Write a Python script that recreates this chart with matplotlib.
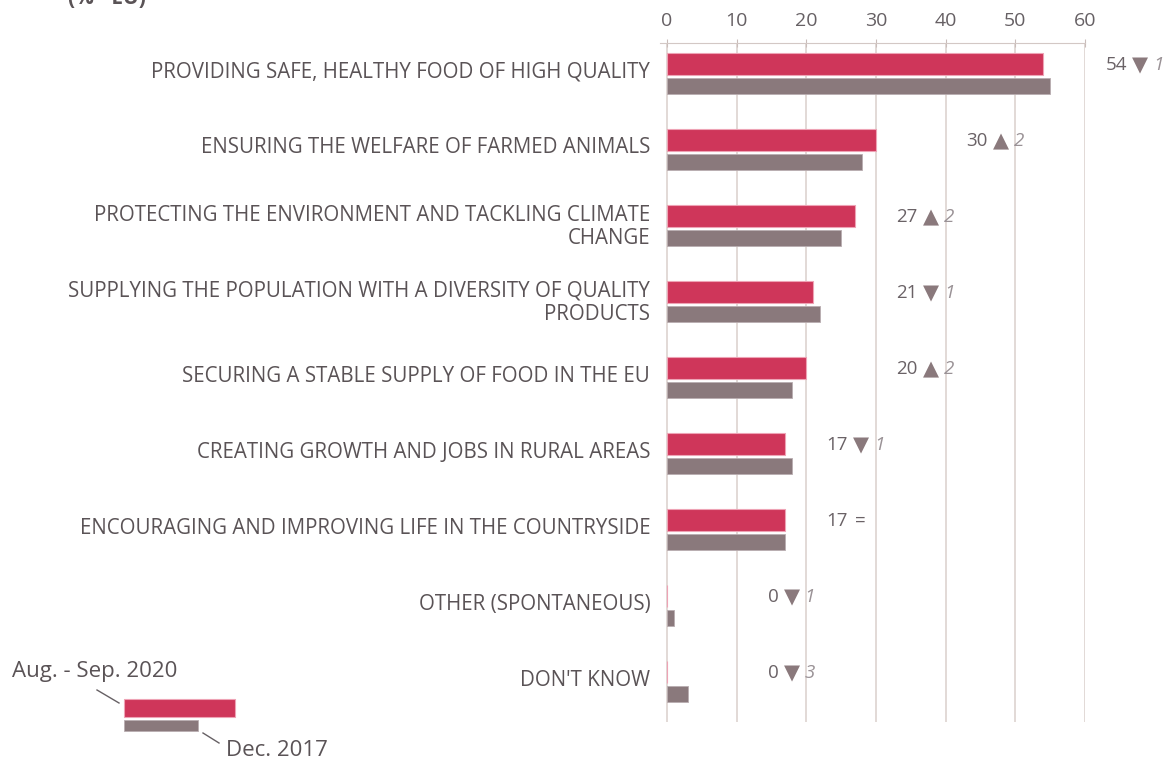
import matplotlib
matplotlib.use("Agg")

import numpy as np
import matplotlib.pyplot as plt
from matplotlib.patches import Rectangle
from matplotlib.lines import Line2D

# data
categories = [
    "PROVIDING SAFE, HEALTHY FOOD OF HIGH QUALITY",
    "ENSURING THE WELFARE OF FARMED ANIMALS",
    "PROTECTING THE ENVIRONMENT AND TACKLING CLIMATE\nCHANGE",
    "SUPPLYING THE POPULATION WITH A DIVERSITY OF QUALITY\nPRODUCTS",
    "SECURING A STABLE SUPPLY OF FOOD IN THE EU",
    "CREATING GROWTH AND JOBS IN RURAL AREAS",
    "ENCOURAGING AND IMPROVING LIFE IN THE COUNTRYSIDE",
    "OTHER (SPONTANEOUS)",
    "DON'T KNOW",
]
values_2020 = [54, 30, 27, 21, 20, 17, 17, 0, 0]
values_2017 = [55, 28, 25, 22, 18, 18, 17, 1, 3]
series_names = ["Aug. - Sep. 2020", "Dec. 2017"]
xticks = [0, 10, 20, 30, 40, 50, 60]

RED = "#cf365a"
GREY = "#8a797c"
TXT = "#5a5356"
GRID = "#ddd3d0"
FONT = ["Open Sans", "DejaVu Sans"]

plt.rcParams["font.family"] = FONT

W, H = 1171, 760
fig = plt.figure(figsize=(W / 100, H / 100), dpi=100)


def fx(px):
    return px / W


def fy(py):
    return 1 - py / H


ax = fig.add_axes([fx(660), fy(722), fx(1085) - fx(660), fy(43) - fy(722)])

y = np.arange(len(categories))
ax.barh(y - 0.125, values_2020, height=0.29, color=RED,
        edgecolor="#eea3b5", linewidth=0.8, zorder=3)
ax.barh(y + 0.165, values_2017, height=0.21, color=GREY,
        edgecolor="#b9adb0", linewidth=0.6, zorder=3)

ax.set_xlim(-1, 60)
ax.set_ylim(8.53, -0.40)
ax.xaxis.tick_top()
ax.set_xticks(xticks)
ax.tick_params(axis="x", colors="#c9bdba", labelcolor="#666064",
               labelsize=14, length=6, direction="inout", pad=6)
ax.set_yticks([])
for s in ["left", "right", "bottom"]:
    ax.spines[s].set_visible(False)
ax.spines["top"].set_color("#d3c8c5")
ax.grid(axis="x", color=GRID, linewidth=1.2, zorder=0)
ax.set_axisbelow(True)

# category labels
for i, cat in enumerate(categories):
    dy = 0.02 if "\n" in cat else -0.02
    ax.text(-2.4, i + dy, cat, ha="right", va="center", fontsize=14.8,
            color=TXT, linespacing=1.17)

# annotations: value + change vs 2017
for i, (a, b) in enumerate(zip(values_2020, values_2017)):
    nx = (np.floor(max(a, b) / 10) + 1) * 10 + 6
    yy = i - 0.11
    ax.annotate(f"{a}", xy=(nx, yy), ha="right", va="center",
                fontsize=13.5, color="#6a6266", annotation_clip=False)
    d = a - b
    if d == 0:
        ax.annotate("=", xy=(nx, yy), xytext=(7, 0), textcoords="offset pixels",
                    ha="left", va="center", fontsize=13.5, color="#6a6266",
                    annotation_clip=False)
    else:
        sym = "▲" if d > 0 else "▼"
        ax.annotate(sym, xy=(nx, yy), xytext=(13, 0), textcoords="offset pixels",
                    ha="center", va="center", fontsize=15, color=GREY,
                    family="DejaVu Sans", annotation_clip=False)
        ax.annotate(f"{abs(d)}", xy=(nx, yy), xytext=(26, 0),
                    textcoords="offset pixels", ha="left", va="center",
                    fontsize=13.5, color="#9a9296", style="italic",
                    annotation_clip=False)

# clipped title at the very top
fig.text(fx(68), fy(4), "(% - EU)", ha="left", va="baseline", fontsize=15,
         fontweight="bold", color=TXT)

# hand-drawn legend
fig.add_artist(Rectangle((fx(124), fy(717)), fx(235) - fx(124), fy(699) - fy(717),
                         transform=fig.transFigure, facecolor=RED,
                         edgecolor="#eea3b5", linewidth=0.8))
fig.add_artist(Rectangle((fx(124), fy(731)), fx(198) - fx(124), fy(720) - fy(731),
                         transform=fig.transFigure, facecolor=GREY,
                         edgecolor="#b9adb0", linewidth=0.6))
fig.add_artist(Line2D([fx(97), fx(119)], [fy(690), fy(703)],
                      transform=fig.transFigure, color="#666064", linewidth=1))
fig.add_artist(Line2D([fx(203), fx(219)], [fy(733), fy(743)],
                      transform=fig.transFigure, color="#666064", linewidth=1))
fig.text(fx(12), fy(672), series_names[0], ha="left", va="center",
         fontsize=16, color=TXT)
fig.text(fx(226), fy(750), series_names[1], ha="left", va="center",
         fontsize=16, color=TXT)

fig.savefig("out.png", dpi=100)
